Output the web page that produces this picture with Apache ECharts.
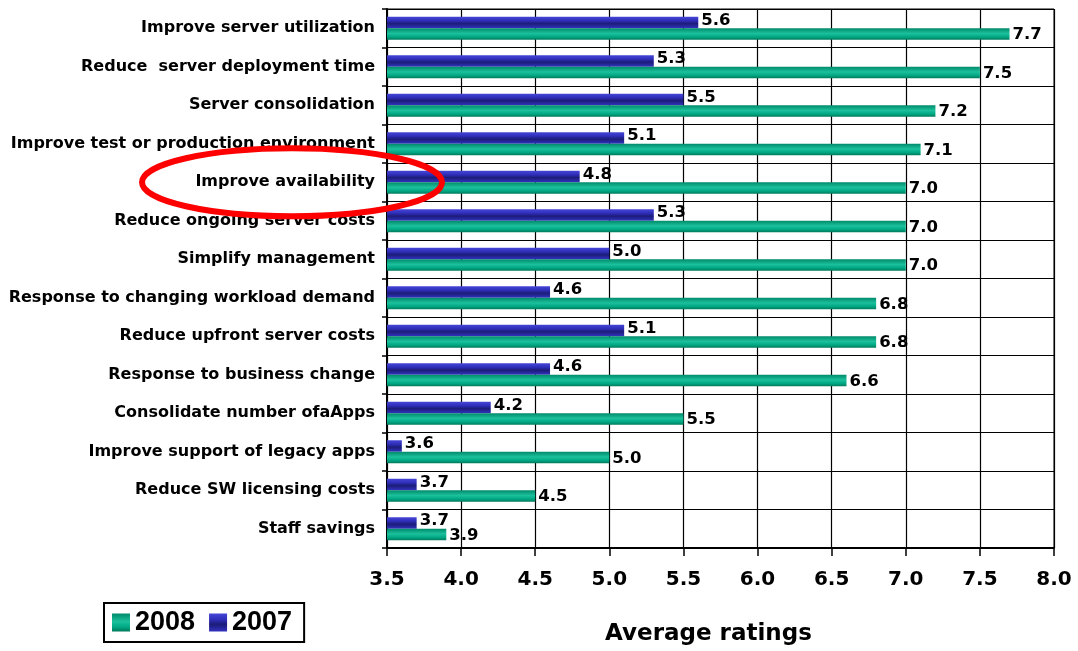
<!DOCTYPE html>
<html>
<head>
<meta charset="utf-8">
<script src="https://cdn.jsdelivr.net/npm/echarts@6/dist/echarts.min.js"></script>
<style>
html,body{margin:0;padding:0;background:#fff;}
#chart{width:1078px;height:651px;}
</style>
</head>
<body>
<div id="chart"></div>
<script>
const categories = [
  'Improve server utilization',
  'Reduce  server deployment time',
  'Server consolidation',
  'Improve test or production environment',
  'Improve availability',
  'Reduce ongoing server costs',
  'Simplify management',
  'Response to changing workload demand',
  'Reduce upfront server costs',
  'Response to business change',
  'Consolidate number ofaApps',
  'Improve support of legacy apps',
  'Reduce SW licensing costs',
  'Staff savings'
];
const values2007 = [5.6, 5.3, 5.5, 5.1, 4.8, 5.3, 5.0, 4.6, 5.1, 4.6, 4.2, 3.6, 3.7, 3.7];
const values2008 = [7.7, 7.5, 7.2, 7.1, 7.0, 7.0, 7.0, 6.8, 6.8, 6.6, 5.5, 5.0, 4.5, 3.9];
const xTicks = ['3.5','4.0','4.5','5.0','5.5','6.0','6.5','7.0','7.5','8.0'];
const highlighted = 'Improve availability';

const FONT = '"DejaVu Sans", sans-serif';
const blueGrad = new echarts.graphic.LinearGradient(0, 0, 0, 1, [
  {offset: 0, color: '#4646d8'},
  {offset: 0.35, color: '#2e2eb8'},
  {offset: 0.6, color: '#1c1c78'},
  {offset: 1, color: '#3232c0'}
]);
const greenGrad = new echarts.graphic.LinearGradient(0, 0, 0, 1, [
  {offset: 0, color: '#008a6a'},
  {offset: 0.45, color: '#1cc09c'},
  {offset: 0.75, color: '#00a884'},
  {offset: 1, color: '#007a5c'}
]);

const chart = echarts.init(document.getElementById('chart'), null, {renderer: 'canvas'});
const labelStyle = {
  show: true, position: 'right', distance: 3,
  fontFamily: FONT, fontWeight: 'bold', fontSize: 16.5, color: '#000',
  formatter: p => Number(p.value).toFixed(1)
};
chart.setOption({
  animation: false,
  backgroundColor: '#fff',
  grid: {left: 387, top: 9, right: 24, bottom: 103, show: true, borderColor: '#000', borderWidth: 1},
  legend: {
    data: ['2008', '2007'],
    left: 104, top: 603,
    orient: 'horizontal',
    borderColor: '#000', borderWidth: 2,
    padding: [6, 12, 6, 8],
    itemWidth: 18, itemHeight: 18, itemGap: 14,
    icon: 'rect',
    textStyle: {fontFamily: 'Arial, "Liberation Sans", sans-serif', fontWeight: 'bold', fontSize: 27, color: '#000'}
  },
  xAxis: {
    type: 'value', min: 3.5, max: 8.0, interval: 0.5,
    name: 'Average ratings', nameLocation: 'middle', nameGap: 75,
    nameTextStyle: {fontFamily: FONT, fontWeight: 'bold', fontSize: 23, color: '#000', padding: [0, 24, 0, 0]},
    axisLine: {show: true, lineStyle: {color: '#000', width: 2}},
    axisTick: {show: true, length: 8, lineStyle: {color: '#000', width: 1.5}},
    axisLabel: {
      fontFamily: FONT, fontWeight: 'bold', fontSize: 20, color: '#000', margin: 22,
      formatter: (v) => { const i = Math.round((v - 3.5) / 0.5); return xTicks[i] !== undefined ? xTicks[i] : v.toFixed(1); }
    },
    splitLine: {show: true, lineStyle: {color: '#000', width: 1.2}}
  },
  yAxis: {
    type: 'category', data: categories, inverse: true,
    axisLine: {show: true, lineStyle: {color: '#000', width: 2}},
    axisTick: {show: true, length: 5, alignWithLabel: false, lineStyle: {color: '#000', width: 1.5}},
    axisLabel: {fontFamily: FONT, fontWeight: 'bold', fontSize: 16, color: '#000', margin: 12},
    splitLine: {show: true, lineStyle: {color: '#000', width: 1.2}}
  },
  series: [
    {name: '2007', type: 'bar', data: values2007, barWidth: 11.5, barGap: '0%',
     itemStyle: {color: blueGrad}, label: Object.assign({}, labelStyle, {offset: [0, -2]})},
    {name: '2008', type: 'bar', data: values2008, barWidth: 11.5, barGap: '0%',
     itemStyle: {color: greenGrad}, label: Object.assign({}, labelStyle, {offset: [0, 1]})}
  ]
});

const cy = chart.convertToPixel({yAxisIndex: 0}, highlighted);
chart.setOption({
  graphic: [{
    type: 'ellipse', z: 100,
    shape: {cx: 292, cy: cy, rx: 150, ry: 34},
    style: {fill: 'none', stroke: '#ff0000', lineWidth: 6}
  }]
});
</script>
</body>
</html>
